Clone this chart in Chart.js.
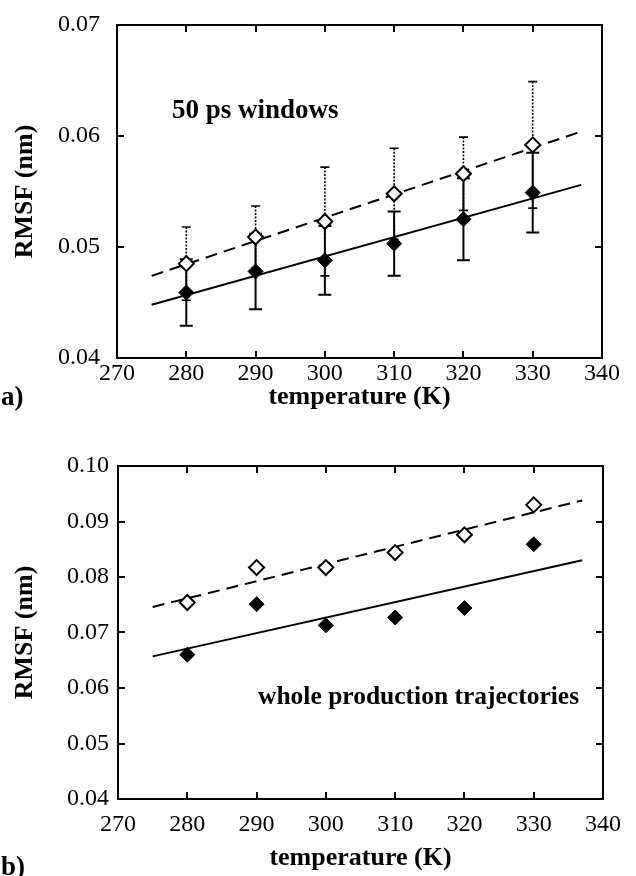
<!DOCTYPE html>
<html><head><meta charset="utf-8">
<script src="https://cdn.jsdelivr.net/npm/chart.js@4.4.1/dist/chart.umd.min.js"></script>
<style>
html,body{margin:0;padding:0;background:#fff;width:636px;height:876px;overflow:hidden;}
.box{position:absolute;left:0;width:636px;}
.lab{position:absolute;font-family:"Liberation Serif",serif;font-weight:bold;color:#000;white-space:nowrap;line-height:1;}
</style></head><body>
<div class="box" style="top:0;height:420px"><canvas id="ca"></canvas></div>
<div class="box" style="top:430px;height:446px"><canvas id="cb"></canvas></div>
<div class="lab" style="left:1px;top:383px;font-size:27px">a)</div>
<div class="lab" style="left:1px;top:853px;font-size:27px">b)</div>
<div class="lab" style="left:172px;top:96px;font-size:27px">50 ps windows</div>
<div class="lab" style="left:258px;top:683px;font-size:25.5px">whole production trajectories</div>
<script>
// ---- data ----
const temperatures = [280, 290, 300, 310, 320, 330];
const xTickValues = [270, 280, 290, 300, 310, 320, 330, 340];
const yTicksA = [0.04, 0.05, 0.06, 0.07];
const yTicksB = [0.04, 0.05, 0.06, 0.07, 0.08, 0.09, 0.10];

// a) 50 ps windows
const rmsfA_filled    = [0.0459, 0.0478, 0.0488, 0.0503, 0.0525, 0.0549];
const rmsfA_filledErr = [0.0030, 0.0034, 0.0031, 0.0029, 0.0037, 0.0036];
const rmsfA_open      = [0.0485, 0.0509, 0.0523, 0.0548, 0.0566, 0.0592];
const rmsfA_openErr   = [0.0033, 0.0028, 0.0049, 0.0041, 0.0033, 0.0057];
const fitT = [275, 337];
const fitA_filled = [0.0448, 0.0556];
const fitA_open   = [0.0474, 0.0604];

// b) whole production trajectories
const rmsfB_filled = [0.0660, 0.0751, 0.0713, 0.0727, 0.0744, 0.0859];
const rmsfB_open   = [0.0754, 0.0817, 0.0817, 0.0844, 0.0876, 0.0930];
const fitB_filled = [0.0657, 0.0830];
const fitB_open   = [0.0746, 0.0938];

const SERIF = '"Liberation Serif", "Times New Roman", serif';
const pts = (xs, ys) => xs.map((x, i) => ({x: x, y: ys[i]}));

const framePlugin = {
  id: 'frame',
  afterDatasetsDraw(chart) {
    const {ctx, chartArea: a, scales: {x, y}} = chart;
    ctx.save();
    ctx.strokeStyle = '#000';
    ctx.lineWidth = 2;
    ctx.setLineDash([]);
    ctx.strokeRect(a.left, a.top, a.right - a.left, a.bottom - a.top);
    const L = 7;
    ctx.beginPath();
    x.ticks.forEach(t => {
      const px = Math.round(x.getPixelForValue(t.value));
      if (px <= a.left + 1 || px >= a.right - 1) return;
      ctx.moveTo(px, a.bottom); ctx.lineTo(px, a.bottom - L);
      ctx.moveTo(px, a.top); ctx.lineTo(px, a.top + L);
    });
    y.ticks.forEach(t => {
      const py = Math.round(y.getPixelForValue(t.value));
      if (py <= a.top + 1 || py >= a.bottom - 1) return;
      ctx.moveTo(a.left, py); ctx.lineTo(a.left + L, py);
      ctx.moveTo(a.right, py); ctx.lineTo(a.right - L, py);
    });
    ctx.stroke();
    ctx.restore();
  }
};

const errPlugin = {
  id: 'errbars',
  beforeDatasetsDraw(chart) {
    const {ctx, scales: {x, y}} = chart;
    chart.data.datasets.forEach(ds => {
      if (!ds.errors) return;
      ctx.save();
      ctx.strokeStyle = '#000';
      ctx.lineWidth = ds.errDashed ? 1.6 : 2;
      ds.data.forEach((p, i) => {
        const e = ds.errors[i];
        const px = x.getPixelForValue(p.x);
        const top = y.getPixelForValue(p.y + e);
        const bot = y.getPixelForValue(p.y - e);
        const c = ds.errDashed ? 4.5 : 6.5;
        ctx.setLineDash(ds.errDashed ? [2, 1.5] : []);
        ctx.beginPath();
        ctx.moveTo(px, top); ctx.lineTo(px, bot);
        ctx.stroke();
        ctx.setLineDash([]);
        ctx.beginPath();
        ctx.moveTo(px - c, top); ctx.lineTo(px + c, top);
        ctx.moveTo(px - c, bot); ctx.lineTo(px + c, bot);
        ctx.stroke();
      });
      ctx.restore();
    });
  }
};

function makeChart(id, cfg) {
  const xScale = {
    type: 'linear', position: 'bottom', min: 270, max: 340,
    afterBuildTicks: s => { s.ticks = xTickValues.map(v => ({value: v})); },
    afterFit: s => { s.height = cfg.xHeight; },
    grid: {display: false, drawTicks: false},
    border: {display: false},
    ticks: {color: '#000', font: {family: SERIF, size: 24}, padding: cfg.xTickPad, maxRotation: 0,
            callback: v => String(v)},
    title: {display: true, text: 'temperature (K)', color: '#000',
            font: {family: SERIF, size: 26, weight: 'bold'}, padding: {top: 0, bottom: cfg.xTitlePad}}
  };
  const yScale = {
    type: 'linear', position: 'left', min: cfg.yTicks[0], max: cfg.yTicks[cfg.yTicks.length - 1],
    afterBuildTicks: s => { s.ticks = cfg.yTicks.map(v => ({value: v})); },
    afterFit: s => { s.width = cfg.yWidth; s.paddingTop = 0; s.paddingBottom = 0; },
    grid: {display: false, drawTicks: false},
    border: {display: false},
    ticks: {color: '#000', font: {family: SERIF, size: 24}, padding: cfg.yTickPad,
            callback: v => Number(v).toFixed(2)},
    title: {display: true, text: 'RMSF (nm)', color: '#000',
            font: {family: SERIF, size: 26, weight: 'bold'}, padding: {top: 10, bottom: 0}}
  };
  return new Chart(document.getElementById(id), {
    type: 'scatter',
    data: {datasets: cfg.datasets},
    options: {
      responsive: true, maintainAspectRatio: false, animation: false,
      devicePixelRatio: 1,
      layout: {padding: cfg.padding},
      plugins: {legend: {display: false}, tooltip: {enabled: false}},
      scales: {x: xScale, y: yScale}
    },
    plugins: [errPlugin, framePlugin]
  });
}

function openPts(data, errs) {
  const d = {data: pts(temperatures, data), pointStyle: 'rectRot', pointRadius: 7.5,
    backgroundColor: '#fff', borderColor: '#000', pointBorderWidth: 2, borderWidth: 2, order: 0};
  if (errs) { d.errors = errs; d.errDashed = true; }
  return d;
}
function filledPts(data, errs) {
  const d = {data: pts(temperatures, data), pointStyle: 'rectRot', pointRadius: 7.5,
    backgroundColor: '#000', borderColor: '#000', pointBorderWidth: 1, order: 0};
  if (errs) { d.errors = errs; d.errDashed = false; }
  return d;
}
function fitLine(data, dashed) {
  return {data: pts(fitT, data), showLine: true, pointRadius: 0, borderColor: '#000',
    borderWidth: 2, borderDash: dashed ? [12, 7] : [], order: 2};
}

makeChart('ca', {
  yTicks: yTicksA, yWidth: 117, yTickPad: 17, xHeight: 62, xTickPad: 1, xTitlePad: 7,
  padding: {top: 25, right: 34, left: 0, bottom: 0},
  datasets: [
    openPts(rmsfA_open, rmsfA_openErr),
    filledPts(rmsfA_filled, rmsfA_filledErr),
    fitLine(fitA_open, true),
    fitLine(fitA_filled, false)
  ]
});
makeChart('cb', {
  yTicks: yTicksB, yWidth: 118, yTickPad: 9, xHeight: 77, xTickPad: 11, xTitlePad: 2,
  padding: {top: 36, right: 33, left: 0, bottom: 0},
  datasets: [
    openPts(rmsfB_open, null),
    filledPts(rmsfB_filled, null),
    fitLine(fitB_open, true),
    fitLine(fitB_filled, false)
  ]
});
</script>
</body></html>
